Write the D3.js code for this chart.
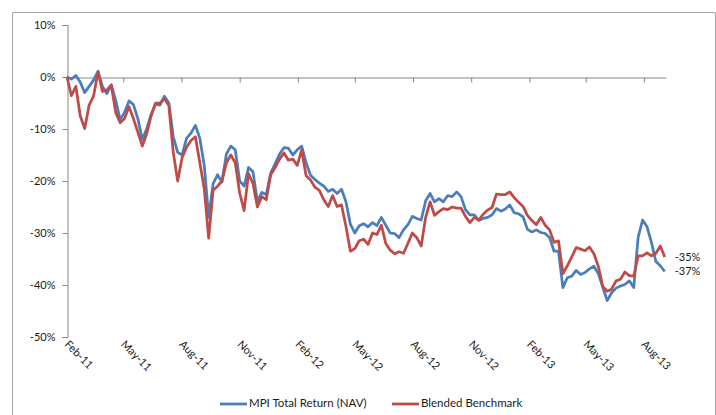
<!DOCTYPE html>
<html>
<head>
<meta charset="utf-8">
<script src="https://cdn.jsdelivr.net/npm/d3@7/dist/d3.min.js"></script>
<style>
  html, body { margin: 0; padding: 0; background: #fff; }
  svg { display: block; }
  text { font-family: Lato, "Open Sans", "Liberation Sans", sans-serif; fill: #1a1a1a; }
</style>
</head>
<body>
<svg id="chart" width="716" height="415"></svg>
<script>
// Weekly observations starting 1 Feb 2011, cumulative return in %
const startDate = new Date(2011, 1, 1);
const seriesNames = ["MPI Total Return (NAV)", "Blended Benchmark"];
const seriesColors = ["#4A7EBB", "#BE4B48"];

const mpiNav = [
  0, -0.4, 0.3, -1.0, -3.0, -1.8, -0.6, 1.1, -1.8, -3.2,
  -1.5, -4.5, -8.2, -6.8, -4.6, -5.3, -8.0, -12.0, -10.0, -7.2,
  -5.2, -5.4, -3.7, -5.0, -11.5, -14.5, -15.0, -11.8, -10.8, -9.3,
  -11.8, -17.0, -27.0, -20.5, -18.8, -20.2, -14.8, -13.3, -14.0, -20.0,
  -21.0, -17.4, -18.2, -24.0, -22.2, -22.6, -18.5, -16.7, -14.8, -13.6,
  -13.7, -15.0, -14.0, -13.3, -16.5, -18.9, -19.7, -20.4, -21.0, -22.0,
  -21.6, -22.4, -21.6, -24.0, -28.3, -30.0, -28.6, -28.2, -28.8, -28.0,
  -28.6, -27.0, -28.5, -30.0, -30.1, -30.9, -29.4, -28.4, -26.8, -27.2,
  -27.5, -23.8, -22.4, -24.0, -23.4, -24.0, -22.8, -23.0, -22.1, -23.0,
  -25.5, -26.5, -26.5, -27.6, -27.2, -27.0, -26.5, -25.3, -25.8, -25.4,
  -24.6, -26.1, -26.3, -26.9, -29.3, -29.8, -29.4, -29.9, -30.1, -30.9,
  -33.5, -33.5, -40.5, -38.6, -38.3, -37.2, -38.0, -37.6, -36.9, -36.4,
  -37.8, -40.4, -43.0, -41.5, -40.6, -40.2, -39.9, -39.2, -40.5, -30.8,
  -27.5, -28.8, -31.8, -35.5, -36.3, -37.4
];

const blendedBenchmark = [
  0, -3.6, -1.8, -7.5, -9.9, -5.4, -3.7, 1.0, -2.8, -2.5,
  -1.6, -6.8, -8.8, -8.0, -5.7, -8.0, -10.6, -13.3, -10.9, -7.5,
  -5.0, -5.0, -4.2, -5.5, -14.5, -20.0, -15.5, -13.5, -12.2, -11.5,
  -16.5, -21.5, -31.0, -21.8, -21.0, -20.0, -16.5, -15.0, -16.5, -22.3,
  -25.7, -18.6, -20.5, -25.0, -23.0, -23.6, -18.8, -17.4, -15.8, -14.6,
  -16.0, -15.8, -17.0, -14.0, -19.0, -19.8, -21.2, -21.8, -23.6, -24.9,
  -22.8, -24.9, -24.6, -28.7, -33.5, -33.0, -31.5, -31.2, -32.2, -30.0,
  -30.3, -28.5, -32.0, -33.3, -34.0, -33.6, -33.9, -32.0, -30.0, -30.9,
  -32.5, -27.0, -24.0, -26.6, -25.9, -25.3, -25.5, -25.0, -25.2, -25.2,
  -26.8, -28.0, -27.0, -27.5, -26.4, -25.6, -25.1, -22.5, -22.6, -22.6,
  -22.1, -23.2, -24.1, -24.9, -26.6, -27.6, -28.4, -27.0, -28.5, -29.4,
  -31.8, -31.5, -37.8, -36.3, -34.6, -32.8, -33.1, -33.4, -32.7, -34.0,
  -36.4, -40.3, -41.2, -40.8, -39.2, -38.9, -37.5, -38.2, -38.3, -34.4,
  -34.4, -33.8, -34.4, -33.9, -32.5, -34.6
];

const yTickValues = [10, 0, -10, -20, -30, -40, -50];
const xTickLabels = ["Feb-11", "May-11", "Aug-11", "Nov-11", "Feb-12", "May-12",
                     "Aug-12", "Nov-12", "Feb-13", "May-13", "Aug-13"];

const dates = mpiNav.map((_, i) => d3.timeDay.offset(startDate, 7 * i));
const tickDates = xTickLabels.map((_, i) => d3.timeMonth.offset(startDate, 3 * i));

const svg = d3.select("#chart");
const axisColor = "#868686";

// chart area frame
svg.append("path")
  .attr("d", "M12.5,415 V12.5 H715.5 V415")
  .attr("fill", "none").attr("stroke", "#a6a6a6").attr("stroke-width", 1);

const x = d3.scaleTime()
  .domain([startDate, d3.timeDay.offset(startDate, 947)])
  .range([67, 666]);
const y = d3.scaleLinear().domain([-50, 10]).range([337, 25]);

// value axis
const yAxis = svg.append("g")
  .attr("transform", "translate(67.5,0)")
  .call(d3.axisLeft(y).tickValues(yTickValues).tickSize(5).tickPadding(7)
    .tickFormat(d => d + "%"));
yAxis.select(".domain").attr("stroke", axisColor);
yAxis.selectAll(".tick line").attr("stroke", axisColor);
yAxis.selectAll(".tick text").style("font-size", "11px").attr("fill", "#1a1a1a");

// date axis crossing at 0%
const xAxis = svg.append("g")
  .attr("transform", `translate(0,${Math.round(y(0)) + 0.5})`)
  .call(d3.axisBottom(x).tickValues(tickDates).tickSize(5).tickSizeOuter(0)
    .tickFormat(() => ""));
xAxis.select(".domain").attr("stroke", axisColor);
xAxis.selectAll(".tick line").attr("stroke", axisColor);

// date labels along the bottom, slanted
svg.append("g").selectAll("text")
  .data(tickDates)
  .join("text")
  .attr("transform", (d, i) => `translate(${x(d) - 3},${345}) rotate(45)`)
  .attr("text-anchor", "start")
  .style("font-size", "11px")
  .text((d, i) => xTickLabels[i]);

// series lines
const line = d3.line()
  .x((d, i) => x(dates[i]))
  .y(d => y(d));

[mpiNav, blendedBenchmark].forEach((vals, s) => {
  svg.append("path")
    .datum(vals)
    .attr("fill", "none")
    .attr("stroke", seriesColors[s])
    .attr("stroke-width", 2.75)
    .attr("stroke-linejoin", "round")
    .attr("d", line);
});

// end-of-series value labels
[mpiNav, blendedBenchmark].forEach((vals, s) => {
  const last = vals[vals.length - 1];
  svg.append("text")
    .attr("x", x(dates[vals.length - 1]) + 10)
    .attr("y", y(last) + 1)
    .attr("dominant-baseline", "middle")
    .style("font-size", "11px")
    .text(Math.round(last) + "%");
});

// legend
const legend = svg.append("g");
const legendX = [220, 392];
seriesNames.forEach((name, s) => {
  legend.append("line")
    .attr("x1", legendX[s]).attr("x2", legendX[s] + 27)
    .attr("y1", 404).attr("y2", 404)
    .attr("stroke", seriesColors[s]).attr("stroke-width", 2.75);
  legend.append("text")
    .attr("x", legendX[s] + 29).attr("y", 404)
    .attr("dominant-baseline", "middle")
    .style("font-size", "11.5px")
    .text(name);
});
</script>
</body>
</html>
